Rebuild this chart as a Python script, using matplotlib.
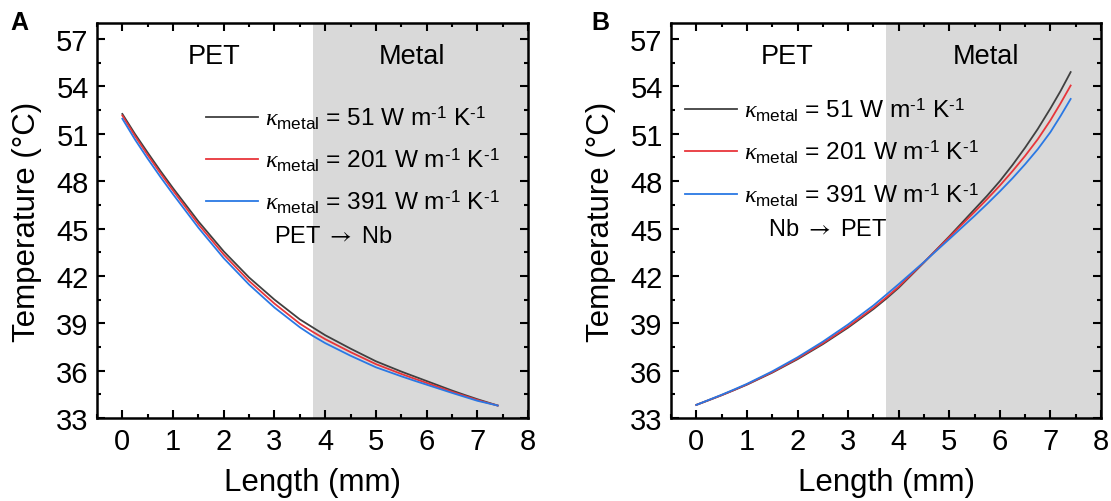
import matplotlib
matplotlib.use("Agg")
import matplotlib.pyplot as plt
from matplotlib.ticker import MultipleLocator

plt.rcParams['font.family'] = ['Liberation Sans', 'DejaVu Sans']
plt.rcParams['mathtext.fontset'] = 'custom'
plt.rcParams['mathtext.rm'] = 'Liberation Sans'
plt.rcParams['mathtext.it'] = 'Liberation Serif:italic'
plt.rcParams['mathtext.bf'] = 'Liberation Sans:bold'
plt.rcParams['mathtext.sf'] = 'STIXGeneral'

# ---- Daten: Temperaturverlauf entlang der Probe ----
length_mm = [0, 0.25, 0.5, 0.75, 1, 1.5, 2, 2.5, 3, 3.5, 3.75, 4, 4.5, 5, 5.5,
             5.75, 6, 6.25, 6.5, 6.75, 7, 7.2, 7.4]

# A: PET -> Nb
temp_a_51 = [52.25, 50.98, 49.8, 48.65, 47.55, 45.45, 43.55, 41.9, 40.5, 39.25, 38.75,
             38.25, 37.4, 36.6, 35.95, 35.65, 35.35, 35.05, 34.75, 34.47, 34.2, 34.0, 33.8]
temp_a_201 = [52.15, 50.85, 49.65, 48.5, 47.4, 45.27, 43.35, 41.68, 40.25, 38.98, 38.47,
              38.0, 37.18, 36.42, 35.8, 35.51, 35.23, 34.95, 34.67, 34.41, 34.15, 33.97, 33.8]
temp_a_391 = [51.95, 50.63, 49.42, 48.27, 47.17, 45.05, 43.12, 41.45, 40.0, 38.75, 38.22,
              37.75, 36.95, 36.22, 35.65, 35.38, 35.12, 34.86, 34.6, 34.35, 34.1, 33.95, 33.8]

# B: Nb -> PET
temp_b_51 = [33.84, 34.14, 34.45, 34.78, 35.12, 35.88, 36.73, 37.68, 38.73, 39.9, 40.55,
             41.25, 42.85, 44.5, 46.22, 47.08, 48.0, 49.02, 50.12, 51.3, 52.6, 53.7, 54.9]
temp_b_201 = [33.84, 34.15, 34.46, 34.79, 35.14, 35.91, 36.78, 37.74, 38.8, 39.98, 40.63,
              41.32, 42.87, 44.45, 46.05, 46.87, 47.72, 48.63, 49.6, 50.65, 51.85, 52.92, 54.05]
temp_b_391 = [33.84, 34.16, 34.48, 34.82, 35.17, 35.96, 36.85, 37.84, 38.93, 40.13, 40.8,
              41.48, 42.88, 44.33, 45.8, 46.56, 47.35, 48.18, 49.07, 50.02, 51.1, 52.12, 53.2]

kappa_labels = [r'$\it{\kappa}_{\mathrm{metal}}$ = 51 W m$^{\text{-1}}$ K$^{\text{-1}}$',
                r'$\it{\kappa}_{\mathrm{metal}}$ = 201 W m$^{\text{-1}}$ K$^{\text{-1}}$',
                r'$\it{\kappa}_{\mathrm{metal}}$ = 391 W m$^{\text{-1}}$ K$^{\text{-1}}$']
colors = ['#404040', '#e8353a', '#2a78e4']
metal_start = 3.75

fig = plt.figure(figsize=(11.11, 5.02), dpi=100)
ax_a = fig.add_axes([0.0873, 0.165, 0.388, 0.787])
ax_b = fig.add_axes([0.604, 0.165, 0.387, 0.787])


def style_axis(ax):
    ax.set_xlim(-0.5, 8)
    ax.set_ylim(33, 58)
    ax.xaxis.set_major_locator(MultipleLocator(1))
    ax.xaxis.set_minor_locator(MultipleLocator(0.5))
    ax.yaxis.set_minor_locator(MultipleLocator(1.5))
    ax.set_yticks([33, 36, 39, 42, 45, 48, 51, 54, 57])
    ax.tick_params(which='both', direction='in', top=True, right=True, width=1.5)
    ax.tick_params(which='major', length=6, labelsize=21, pad=6)
    ax.tick_params(which='minor', length=3)
    for sp in ax.spines.values():
        sp.set_linewidth(1.8)
    ax.axvspan(metal_start, 8, color='#d9d9d9', zorder=0, lw=0)
    ax.set_xlabel('Length (mm)', fontsize=22.5, labelpad=9)
    ax.set_ylabel('Temperature (°C)', fontsize=22.5, labelpad=10)
    ax.text(1.8, 55.9, 'PET', fontsize=19.5, ha='center', va='center')
    ax.text(5.72, 55.9, 'Metal', fontsize=19.5, ha='center', va='center')


# ---- Panel A ----
style_axis(ax_a)
for temps, c, lab in zip([temp_a_51, temp_a_201, temp_a_391], colors, kappa_labels):
    ax_a.plot(length_mm, temps, color=c, lw=1.3, label=lab)
ax_a.legend(loc='center left', bbox_to_anchor=(0.254, 0.655), frameon=False,
            fontsize=17.6, handlelength=2.1, handletextpad=0.3, labelspacing=0.62,
            borderpad=0, borderaxespad=0)
ax_a.text(4.17, 44.5, r'PET $\mathsf{\rightarrow}$ Nb', fontsize=17, ha='center', va='center')
fig.text(0.009, 0.955, 'A', fontsize=18, fontweight='bold', ha='left', va='center')

# ---- Panel B ----
style_axis(ax_b)
for temps, c, lab in zip([temp_b_51, temp_b_201, temp_b_391], colors, kappa_labels):
    ax_b.plot(length_mm, temps, color=c, lw=1.3, label=lab)
ax_b.legend(loc='center left', bbox_to_anchor=(0.033, 0.674), frameon=False,
            fontsize=17.6, handlelength=2.1, handletextpad=0.3, labelspacing=0.62,
            borderpad=0, borderaxespad=0)
ax_b.text(2.6, 44.94, r'Nb $\mathsf{\rightarrow}$ PET', fontsize=17, ha='center', va='center')
fig.text(0.532, 0.955, 'B', fontsize=18, fontweight='bold', ha='left', va='center')

fig.savefig('out.png', dpi=100)
